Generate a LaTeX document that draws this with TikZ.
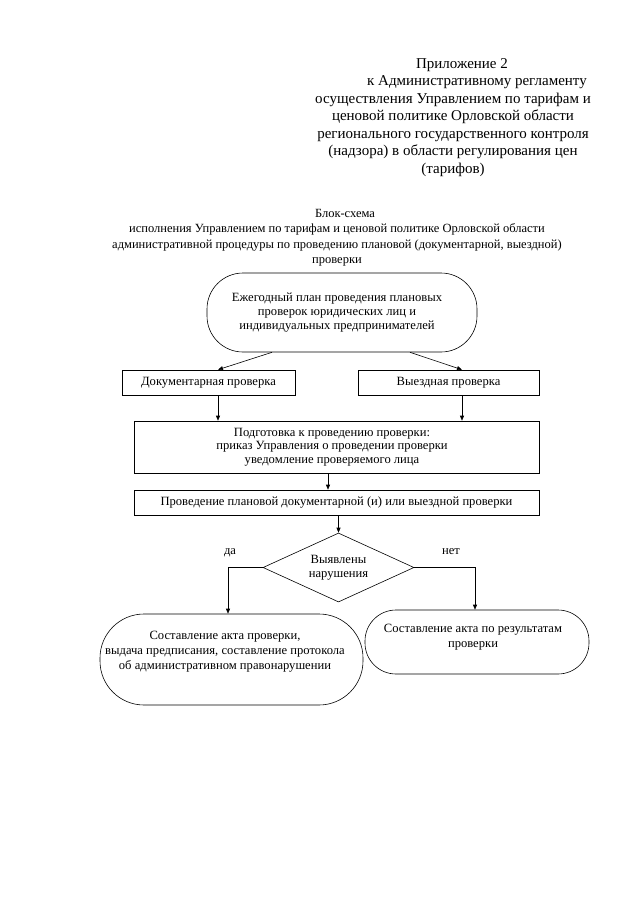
\documentclass[tikz,border=0pt]{standalone}
\usepackage{fontspec}
\setmainfont{Liberation Serif}
\usetikzlibrary{shapes.geometric,arrows.meta,calc}
\begin{document}
\begin{tikzpicture}[x=1pt,y=-1pt,
  every node/.style={inner sep=0pt},
  txt/.style={align=center,font=\fontsize{12.6}{13.6}\selectfont},
  txtw/.style={align=center,font=\fontsize{12.6}{15}\selectfont},
  box/.style={draw,line width=0.6pt,rectangle,txt},
  oval/.style={draw,line width=0.6pt,rectangle,rounded corners=36pt,txt},
  arr/.style={line width=0.6pt,-{Triangle[length=5pt,width=4pt]}}]
\useasboundingbox (0,0) rectangle (639,905);
\fill[white] (0,0) rectangle (639,905);

\node[align=center,font=\fontsize{15}{17.5}\selectfont] (head) at (453,117.5)
 {\hspace*{18pt}Приложение 2\\
  \hspace*{48pt}к Административному регламенту\\
  осуществления Управлением по тарифам и\\
  ценовой политике Орловской области\\
  регионального государственного контроля\\
  (надзора) в области регулирования цен\\
  (тарифов)};

\node[align=center,font=\fontsize{12.5}{15.5}\selectfont] (title) at (337,237.5)
 {\hspace*{16pt}Блок-схема\\
  исполнения Управлением по тарифам и ценовой политике Орловской области\\
  административной процедуры по проведению плановой (документарной, выездной)\\
  проверки};

\node[oval,minimum width=270pt,minimum height=79pt] (plan) at (342,312.5) {};
\node[txt] (plant) at (337,312.5)
 {Ежегодный план проведения плановых\\проверок юридических лиц и\\индивидуальных предпринимателей};
\node[box,minimum width=173pt,minimum height=25pt] (doc) at (208.5,382.5) {Документарная проверка};
\node[box,minimum width=181pt,minimum height=25pt] (vyezd) at (448.5,382.5) {Выездная проверка};
\node[box,minimum width=405pt,minimum height=52pt] (prep) at (336.5,447) {};
\node[txt] (prept) at (332,447)
 {Подготовка к проведению проверки:\\приказ Управления о проведении проверки\\уведомление проверяемого лица};
\node[box,minimum width=405pt,minimum height=25pt] (prov) at (336.5,502.5)
 {Проведение плановой документарной (и) или выездной проверки};
\node[draw,line width=0.6pt,diamond,aspect=2.2,minimum width=151pt,minimum height=69pt,txt] (dia) at (338.5,567.5)
 {Выявлены\\нарушения};
\node[oval,minimum width=263pt,minimum height=91pt,rounded corners=44pt] (act1) at (231.5,659.5) {};
\node[txtw] (act1t) at (225,652)
 {Составление акта проверки,\\выдача предписания, составление протокола\\об административном правонарушении};
\node[oval,minimum width=224pt,minimum height=64pt,rounded corners=31pt] (act2) at (477,642) {};
\node[txtw] (act2t) at (473,637.5) {Составление акта по результатам\\проверки};

\node[txt] (yes) at (230,553) {да};
\node[txt] (no) at (451,552) {нет};

\coordinate (xa) at (272,0);
\coordinate (xb) at (410,0);
\coordinate (xd) at (218,0);
\coordinate (xv) at (462,0);
\coordinate (xp) at (328,0);
\coordinate (xl) at (228,0);
\coordinate (xr) at (475,0);

\draw[arr] (plan.south -| xa) -- (doc.north -| xd);
\draw[arr] (plan.south -| xb) -- (vyezd.north -| xv);
\draw[arr] (doc.south -| xd) -- (prep.north -| xd);
\draw[arr] (vyezd.south -| xv) -- (prep.north -| xv);
\draw[arr] (prep.south -| xp) -- (prov.north -| xp);
\draw[arr] (prov.south -| dia.north) -- (dia.north);
\draw[arr] (dia.west) -| (act1.north -| xl);
\draw[arr] (dia.east) -| (act2.north -| xr);
\end{tikzpicture}
\end{document}
